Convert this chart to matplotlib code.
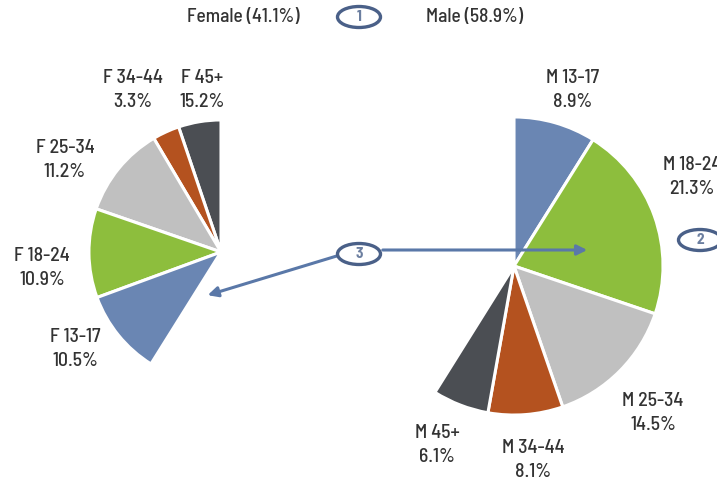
import matplotlib
matplotlib.use("Agg")
import matplotlib.pyplot as plt
from matplotlib.patches import Ellipse, FancyArrowPatch

plt.rcParams['font.family'] = ['Barlow Semi Condensed', 'Archivo Narrow', 'DejaVu Sans']

# ---- data -------------------------------------------------------------
female_total = 41.1
male_total = 58.9

female_groups = ["F 45+", "F 34-44", "F 25-34", "F 18-24", "F 13-17"]
female_values = [5.2, 3.3, 11.2, 10.9, 10.5]
female_pct_text = ["15.2%", "3.3%", "11.2%", "10.9%", "10.5%"]

male_groups = ["M 13-17", "M 18-24", "M 25-34", "M 34-44", "M 45+"]
male_values = [8.9, 21.3, 14.5, 8.1, 6.1]
male_pct_text = ["8.9%", "21.3%", "14.5%", "8.1%", "6.1%"]

# ---- styling / layout (pixel units, y measured from top) --------------
W, H = 717, 483
female_colors = ["#4b4e53", "#b4521f", "#c0c0c0", "#8dbe3d", "#6a86b3"]
male_colors = ["#6a86b3", "#8dbe3d", "#c0c0c0", "#b4521f", "#4b4e53"]
female_explode_px = [6, 7, 5, 6, 8]
male_explode_px = [6, 3, 5, 7, 8]
female_center, female_radius = (221, 252), 132
male_center, male_radius = (514, 266), 149

female_label_pos = [(202, 90), (133, 90), (65, 160), (42, 268), (75, 349)]
male_label_pos = [(573, 90), (692, 177), (653, 413), (533, 460), (437, 445)]

text_color = "#333333"
ring_color = "#4a6088"
ring_text = "#6c7fa0"
arrow_color = "#5a78a8"
label_size = 14.2


def Y(y):
    return H - y


fig = plt.figure(figsize=(W / 100, H / 100), dpi=100)
ax = fig.add_axes([0, 0, 1, 1])

wp = dict(edgecolor="white", linewidth=2.2)

ax.pie([v / 100 for v in female_values], colors=female_colors,
       explode=[e / female_radius for e in female_explode_px],
       center=(female_center[0], Y(female_center[1])), radius=female_radius,
       startangle=90, counterclock=True, normalize=False, wedgeprops=wp)

ax.pie([v / 100 for v in male_values], colors=male_colors,
       explode=[e / male_radius for e in male_explode_px],
       center=(male_center[0], Y(male_center[1])), radius=male_radius,
       startangle=90, counterclock=False, normalize=False, wedgeprops=wp)

label_kw = dict(ha="center", va="center", fontsize=label_size,
                fontweight="medium", color=text_color, linespacing=1.4)
for name, pct, (x, y) in zip(female_groups, female_pct_text, female_label_pos):
    ax.text(x, Y(y), f"{name}\n{pct}", **label_kw)
for name, pct, (x, y) in zip(male_groups, male_pct_text, male_label_pos):
    ax.text(x, Y(y), f"{name}\n{pct}", **label_kw)

# header
ax.text(300, Y(17), f"Female ({female_total}%)", ha="right", va="center",
        fontsize=14, fontweight="medium", color=text_color)
ax.text(426, Y(17), f"Male ({male_total}%)", ha="left", va="center",
        fontsize=14, fontweight="medium", color=text_color)


def badge(x, y, num):
    ax.add_patch(Ellipse((x, Y(y)), 43, 21, facecolor="white",
                         edgecolor=ring_color, linewidth=2.4, zorder=5))
    ax.text(x, Y(y), num, ha="center", va="center", fontsize=11,
            fontweight="bold", color=ring_text, zorder=6)


# arrows from badge 3
ax.add_patch(FancyArrowPatch((380, Y(250)), (590, Y(250)),
                             arrowstyle="-|>,head_length=6,head_width=3",
                             color=arrow_color, linewidth=2.2, zorder=4))
ax.add_patch(FancyArrowPatch((340, Y(255)), (205, Y(296)),
                             arrowstyle="-|>,head_length=6,head_width=3",
                             color=arrow_color, linewidth=2.2, zorder=4))

badge(359, 17, "1")
badge(700, 240, "2")
badge(359, 254, "3")

ax.set_xlim(0, W)
ax.set_ylim(0, H)
ax.set_aspect("equal")
ax.axis("off")

fig.savefig("out.png", dpi=100, facecolor="white")
